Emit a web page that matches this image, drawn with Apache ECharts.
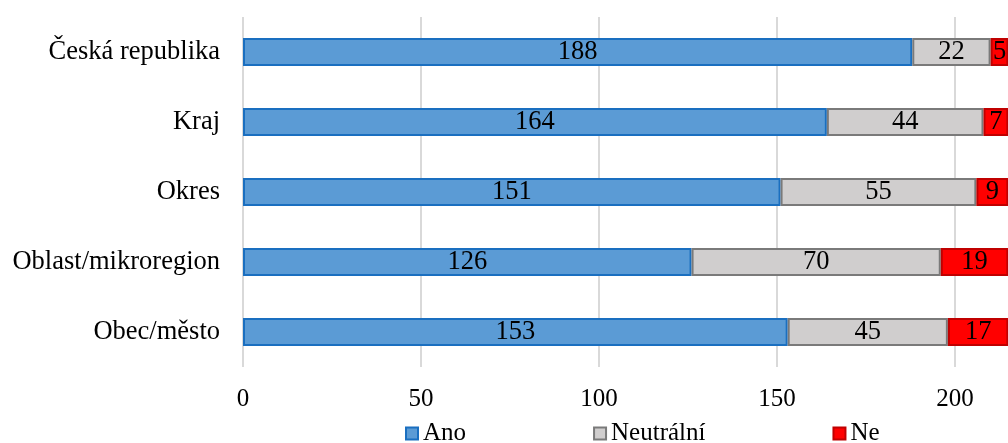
<!DOCTYPE html>
<html>
<head>
<meta charset="utf-8">
<script src="https://cdn.jsdelivr.net/npm/echarts@6/dist/echarts.min.js"></script>
<style>
  html, body { margin: 0; padding: 0; background: #fff; }
  #chart { width: 1008px; height: 443px; }
</style>
</head>
<body>
<div id="chart"></div>
<script>
// Categories listed bottom-to-top (category axis on y runs upward)
const categories = ['Obec/město', 'Oblast/mikroregion', 'Okres', 'Kraj', 'Česká republika'];
const ano = [153, 126, 151, 164, 188];
const neutralni = [45, 70, 55, 44, 22];
const ne = [17, 19, 9, 7, 5];
const xTicks = [0, 50, 100, 150, 200, 250];

const FONT = '"Liberation Serif", "Times New Roman", serif';

function barLabel() {
  return {
    show: true,
    position: 'inside',
    color: '#000',
    fontFamily: FONT,
    fontSize: 26.5
  };
}

const chart = echarts.init(document.getElementById('chart'));
chart.setOption({
  animation: false,
  textStyle: { fontFamily: FONT },
  // plot area runs past the right edge of the canvas
  grid: { left: 243, width: 890, top: 17, bottom: 76, outerBoundsMode: 'none', containLabel: false },
  legend: {
    left: 405,
    top: 421,
    padding: 0,
    icon: 'rect',
    itemWidth: 12,
    itemHeight: 12,
    itemGap: 127,
    textStyle: { fontFamily: FONT, fontSize: 25, color: '#000', padding: [2, 0, 0, 0] },
    data: ['Ano', 'Neutrální', 'Ne']
  },
  xAxis: {
    type: 'value',
    min: xTicks[0],
    max: xTicks[xTicks.length - 1],
    interval: xTicks[1] - xTicks[0],
    axisLine: { show: false },
    axisTick: { show: false },
    splitLine: { show: true, lineStyle: { color: '#d9d9d9', width: 2 } },
    axisLabel: { color: '#000', fontFamily: FONT, fontSize: 25, margin: 20 }
  },
  yAxis: {
    type: 'category',
    data: categories,
    axisLine: { show: false },
    axisTick: { show: false },
    axisLabel: { color: '#000', fontFamily: FONT, fontSize: 26.5, margin: 23 }
  },
  series: [
    {
      name: 'Ano', type: 'bar', stack: 'total', barWidth: 28,
      data: ano,
      itemStyle: { color: '#5b9bd5', borderColor: '#1a6fc0', borderWidth: 2 },
      label: barLabel()
    },
    {
      name: 'Neutrální', type: 'bar', stack: 'total', barWidth: 28,
      data: neutralni,
      itemStyle: { color: '#d0cece', borderColor: '#7a7a7a', borderWidth: 2 },
      label: barLabel()
    },
    {
      name: 'Ne', type: 'bar', stack: 'total', barWidth: 28,
      data: ne,
      itemStyle: { color: '#ff0000', borderColor: '#c00000', borderWidth: 2 },
      label: barLabel()
    }
  ]
});
</script>
</body>
</html>
